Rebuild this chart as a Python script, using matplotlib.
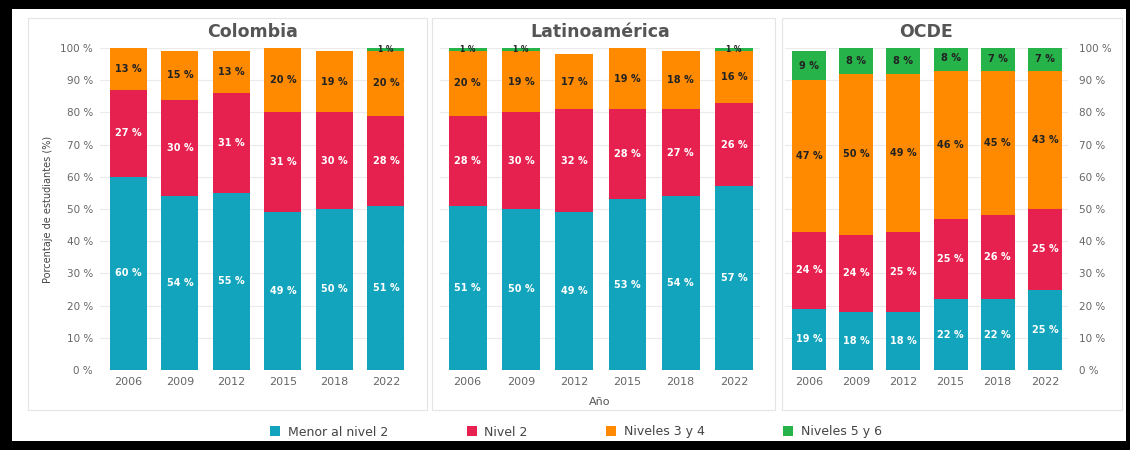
import matplotlib.pyplot as plt
from matplotlib.patches import Rectangle, Patch
import numpy as np

plt.rcParams['font.family'] = ['DejaVu Sans']

years = ['2006', '2009', '2012', '2015', '2018', '2022']
levels = ['Menor al nivel 2', 'Nivel 2', 'Niveles 3 y 4', 'Niveles 5 y 6']
colors = ['#12a4bd', '#e6214f', '#ff8a00', '#26b34a']
text_colors = ['white', 'white', '#222222', '#222222']

colombia_menor = [60, 54, 55, 49, 50, 51]
colombia_n2 = [27, 30, 31, 31, 30, 28]
colombia_n34 = [13, 15, 13, 20, 19, 20]
colombia_n56 = [0, 0, 0, 0, 0, 1]

latam_menor = [51, 50, 49, 53, 54, 57]
latam_n2 = [28, 30, 32, 28, 27, 26]
latam_n34 = [20, 19, 17, 19, 18, 16]
latam_n56 = [1, 1, 0, 0, 0, 1]

ocde_menor = [19, 18, 18, 22, 22, 25]
ocde_n2 = [24, 24, 25, 25, 26, 25]
ocde_n34 = [47, 50, 49, 46, 45, 43]
ocde_n56 = [9, 8, 8, 8, 7, 7]

W, H = 1130, 450
fig = plt.figure(figsize=(W / 100, H / 100), dpi=100, facecolor='black')


def px_rect(x0, y0, x1, y1):
    # pixel box (top-left origin) -> figure fraction [left, bottom, width, height]
    return [x0 / W, 1 - y1 / H, (x1 - x0) / W, (y1 - y0) / H]


def add_box(x0, y0, x1, y1, face, edge, lw=1.0, z=0):
    l, b, w, h = px_rect(x0, y0, x1, y1)
    fig.add_artist(Rectangle((l, b), w, h, transform=fig.transFigure,
                             facecolor=face, edgecolor=edge, linewidth=lw, zorder=z))


# white page inside the black frame, then the three light panels
add_box(12, 9, 1126, 441, 'white', 'none', z=-3)
add_box(28, 18, 427, 410, 'white', '#e4e4e4', 0.8, z=-2)
add_box(432, 18, 775, 410, 'white', '#e4e4e4', 0.8, z=-2)
add_box(782, 18, 1122, 410, 'white', '#e4e4e4', 0.8, z=-2)


def draw_panel(rect_px, title, series, xlim, width, ticks_side):
    ax = fig.add_axes(px_rect(*rect_px))
    ax.set_facecolor('none')
    x = np.arange(len(years))
    bottom = np.zeros(len(years))
    for vals, col, tc in zip(series, colors, text_colors):
        vals = np.array(vals, dtype=float)
        ax.bar(x, vals, width, bottom=bottom, color=col, zorder=2)
        for xi, b, v in zip(x, bottom, vals):
            if v > 0:
                ax.text(xi, b + v / 2, '%d %%' % v, ha='center', va='center',
                        color=tc, fontsize=7 if v > 2 else 5.5,
                        fontweight='bold', zorder=3)
        bottom += vals
    ax.set_xlim(*xlim)
    ax.set_ylim(0, 100)
    ax.set_yticks(range(0, 101, 10))
    ax.set_yticklabels(['%d %%' % v for v in range(0, 101, 10)])
    ax.grid(axis='y', color='#ebebeb', linewidth=0.8, zorder=0)
    ax.set_axisbelow(True)
    for s in ax.spines.values():
        s.set_visible(False)
    ax.set_xticks(x)
    ax.set_xticklabels(years)
    ax.tick_params(axis='both', length=0, labelsize=7.5, colors='#666666')
    ax.tick_params(axis='x', pad=5, labelsize=8)
    if ticks_side == 'left':
        ax.tick_params(axis='y', pad=5)
    elif ticks_side == 'right':
        ax.yaxis.tick_right()
        ax.tick_params(axis='y', pad=8)
    else:
        ax.tick_params(axis='y', labelleft=False)
    ax.set_title(title, fontsize=12.5, fontweight='bold', color='#555555', pad=8)
    return ax


ax1 = draw_panel((100, 48, 405, 370), 'Colombia',
                 [colombia_menor, colombia_n2, colombia_n34, colombia_n56],
                 (-0.55, 5.37), 0.72, 'left')
ax1.set_ylabel('Porcentaje de estudiantes (%)', fontsize=7, color='#444444', labelpad=5)

ax2 = draw_panel((440, 48, 760, 370), 'Latinoamérica',
                 [latam_menor, latam_n2, latam_n34, latam_n56],
                 (-0.52, 5.49), 0.71, 'none')
ax2.set_xlabel('Año', fontsize=8, color='#555555', labelpad=7)

ax3 = draw_panel((785, 48, 1068, 370), 'OCDE',
                 [ocde_menor, ocde_n2, ocde_n34, ocde_n56],
                 (-0.51, 5.49), 0.72, 'right')

handles = [Patch(facecolor=c, edgecolor='none') for c in colors]
fig.legend(handles, levels, loc='center', bbox_to_anchor=(576 / W, 1 - 432 / H),
           ncol=4, frameon=False, fontsize=9, labelcolor='#444444',
           handlelength=0.8, handleheight=0.8, handletextpad=0.6, columnspacing=6.3)

fig.savefig('out.png', dpi=100, facecolor='black')
